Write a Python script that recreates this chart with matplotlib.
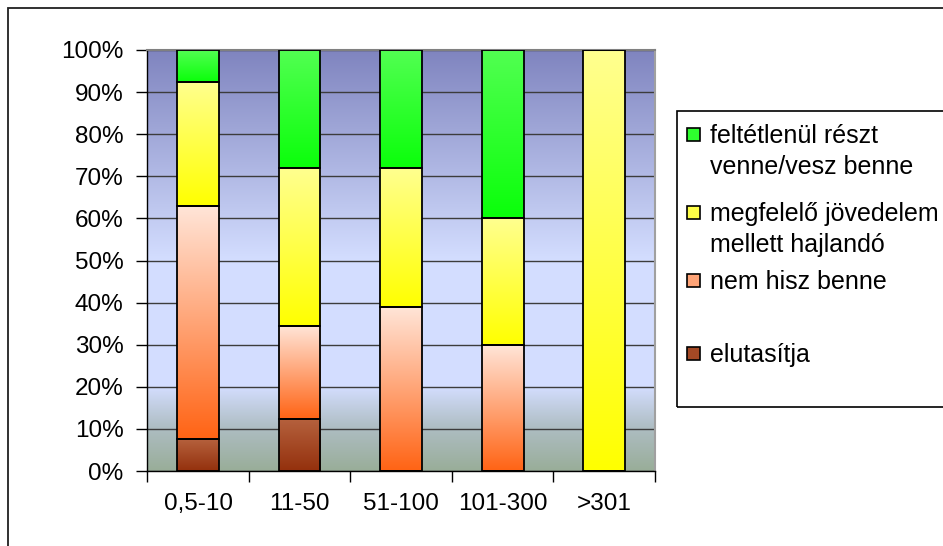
import numpy as np
import matplotlib
matplotlib.use('Agg')
from matplotlib import pyplot as plt
from matplotlib.patches import Rectangle

plt.rcParams['font.family'] = ['Liberation Sans', 'DejaVu Sans']

categories = ['0,5-10', '11-50', '51-100', '101-300', '>301']
# stacked shares in percent, bottom to top
elutasitja = [7.5, 12.3, 0, 0, 0]
nem_hisz = [55.5, 22.2, 39, 30, 0]
megfelelo = [29.5, 37.5, 33, 30, 100]
feltetlenul = [7.5, 28, 28, 40, 0]

series = [elutasitja, nem_hisz, megfelelo, feltetlenul]
labels = ['elutasítja', 'nem hisz benne',
          'megfelelő jövedelem\nmellett hajlandó',
          'feltétlenül részt\nvenne/vesz benne']
# gradient (top colour, bottom colour) for each series
grads = [((0.71, 0.38, 0.24), (0.58, 0.19, 0.05)),
         ((1.0, 0.90, 0.85), (1.0, 0.39, 0.08)),
         ((1.0, 1.0, 0.56), (1.0, 1.0, 0.0)),
         ((0.32, 1.0, 0.32), (0.04, 1.0, 0.04))]

W, H = 943, 546
fig = plt.figure(figsize=(W/100, H/100), dpi=100)
ax = fig.add_axes([147.3/W, 1-471/H, 507.7/W, 421/H])

# plot area background gradient
stops = np.array([0.0, 0.10, 0.20, 0.50, 1.0])
cols = np.array([[0.60, 0.68, 0.60],
                 [0.68, 0.74, 0.76],
                 [0.83, 0.87, 1.0],
                 [0.83, 0.87, 1.0],
                 [0.50, 0.52, 0.75]])
yy = np.linspace(1, 0, 300)
bg = np.stack([np.interp(yy, stops, cols[:, k]) for k in range(3)], axis=-1)[:, None, :]
ax.imshow(bg, extent=[0, 1, 0, 1], transform=ax.transAxes, aspect='auto', zorder=0)

x = np.arange(len(categories))
bottom = np.zeros(len(categories))
for vals, (ctop, cbot) in zip(series, grads):
    bars = ax.bar(x, vals, 0.41, bottom=bottom, facecolor='none',
                  edgecolor='black', linewidth=1.3, zorder=3)
    t = np.linspace(0, 1, 200)[:, None]
    img = (np.array(ctop)[None, :] * (1 - t) + np.array(cbot)[None, :] * t)[:, None, :]
    for b in bars:
        if b.get_height() <= 0:
            continue
        ax.imshow(img, extent=[b.get_x(), b.get_x() + b.get_width(),
                               b.get_y(), b.get_y() + b.get_height()],
                  aspect='auto', zorder=2, interpolation='bilinear')
    bottom = bottom + np.array(vals)

ax.set_xlim(-0.5, len(categories) - 0.5)
ax.set_ylim(0, 100)
ax.set_yticks(np.arange(0, 101, 10))
ax.set_yticklabels(['%d%%' % v for v in range(0, 101, 10)])
ax.set_xticks(x)
ax.set_xticklabels(categories)
ax.set_xticks(np.arange(-0.5, len(categories)), minor=True)
ax.tick_params(axis='x', which='major', length=0, pad=16, labelsize=17.5)
ax.tick_params(axis='x', which='minor', length=8, width=1, direction='out')
ax.tick_params(axis='y', length=8, width=1, direction='out', pad=9, labelsize=17.5)
ax.set_axisbelow(True)
ax.yaxis.grid(True, color='#3c3c3c', linewidth=1)
ax.spines['top'].set_color('#808080')
ax.spines['right'].set_color('#a0a0a0')
ax.spines['top'].set_linewidth(1.5)
ax.spines['right'].set_linewidth(1.5)
ax.spines['left'].set_linewidth(1)
ax.spines['bottom'].set_linewidth(1)

# outer chart frame (cut off at the right and bottom)
fig.add_artist(Rectangle((8.3/W, -0.05), 1.1, 1 - 8/H + 0.05, transform=fig.transFigure,
                         fill=False, edgecolor='#202020', linewidth=1.3))

# legend box
fig.add_artist(Rectangle((677.3/W, 1 - 407/H), 1.0, (407 - 111)/H, transform=fig.transFigure,
                         fill=False, edgecolor='black', linewidth=1.2))
baselines = [142.7, 220.7, 289.3, 362.3]
order = [3, 2, 1, 0]
for base, i in zip(baselines, order):
    ctop, cbot = grads[i]
    mid = tuple((a + b) / 2 for a, b in zip(ctop, cbot))
    fig.add_artist(Rectangle((687/W, 1 - (base - 2)/H), 13/W, 13/H, transform=fig.transFigure,
                             facecolor=mid, edgecolor='black', linewidth=1.2))
    for j, line in enumerate(labels[i].split('\n')):
        fig.text(710/W, 1 - (base + 31*j)/H, line, fontsize=18, va='baseline', ha='left')

fig.savefig('out.png', dpi=100)
